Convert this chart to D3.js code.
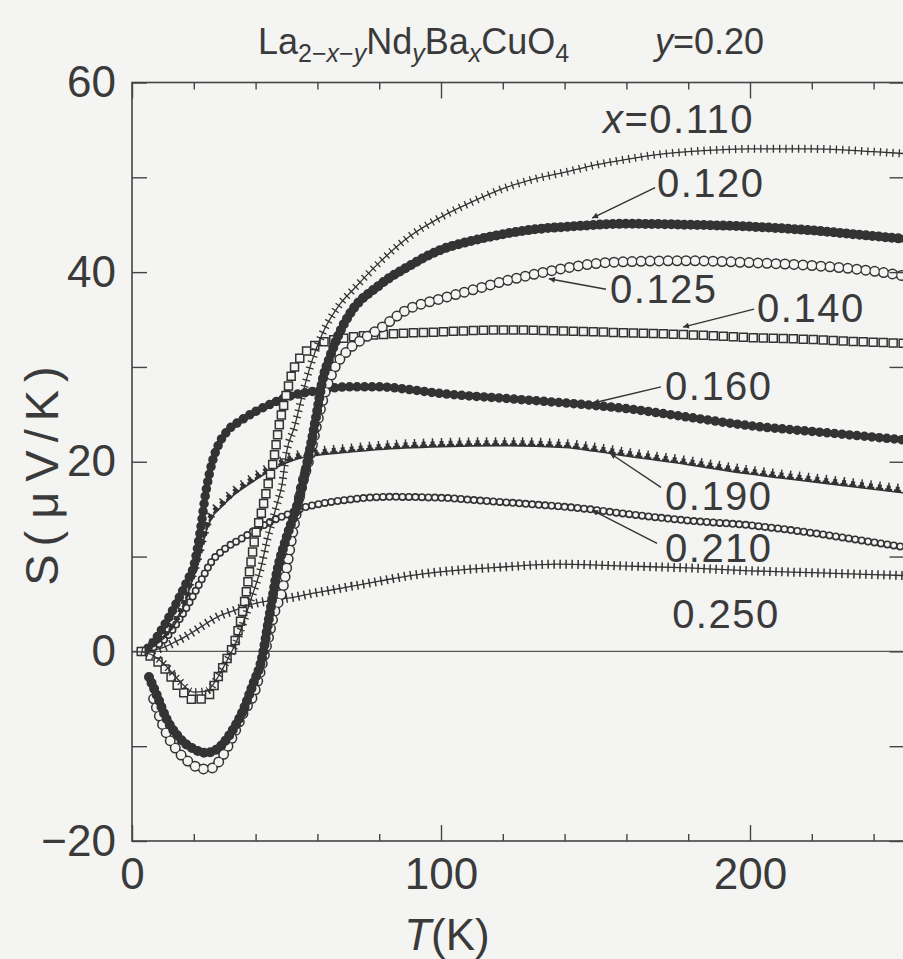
<!DOCTYPE html>
<html><head><meta charset="utf-8">
<script src="https://cdn.jsdelivr.net/npm/d3@7"></script>
<style>
html,body{margin:0;padding:0;background:#f4f4f2;}
svg{display:block;}
text{font-family:"Liberation Sans",Arial,Helvetica,sans-serif;fill:#3a3a3a;}
</style></head><body>
<svg id="chart" width="903" height="959"></svg>
<script>
// ---- data: [T (K), S (uV/K)] ----
const x110 = [[3,0],[6,-0.3],[10,-1.2],[15,-3.0],[20,-4.3],[24,-4.2],[28,-2.6],[31,-0.8],[33.5,0.8],[36,3],[38.5,5.5],[41.8,8.9],[43.7,11.7],[47,15.6],[48.5,17.5],[50,21],[52.5,23.6],[55.5,27.5],[58,30.4],[61.6,33.5],[67,36.5],[72,38.3],[80,41],[90,43.8],[100,45.8],[110,47.4],[120,48.8],[130,49.8],[141,50.6],[150,51.3],[160,51.9],[170,52.4],[180,52.7],[190,52.9],[200,53.0],[210,53.0],[220,53.0],[230,52.9],[240,52.7],[250,52.5]];
const x120 = [[5.5,-2.7],[8,-4.6],[11,-7],[15,-9],[20,-10.3],[24,-10.7],[28,-10.2],[32,-8.6],[36,-6.2],[39,-3.6],[42,-0.8],[44.4,3.6],[47,8.5],[50,12],[54,16],[57.4,21],[60,25.5],[61.6,28.5],[64,31],[67,33.5],[70.3,35.5],[80,38.6],[90,40.7],[99.5,42.3],[110,43.3],[120,44],[130,44.5],[141.6,44.8],[160,45.1],[180,45],[200,44.8],[220,44.4],[240,43.8],[250,43.5]];
const x125 = [[7,-5],[9.4,-7.3],[12,-9.2],[15,-10.6],[19,-11.8],[23,-12.4],[26,-12.3],[29,-11.2],[33,-8.7],[36,-6.5],[39.5,-4.4],[42,-1.5],[43.7,0.8],[46,4],[48.6,6.4],[52,12.5],[55,17.5],[57.5,20.5],[59.6,23.6],[62,26.8],[65,29.5],[70,31.8],[75,33],[80,34],[88.8,36],[100,37.2],[110,38.1],[120,39],[132,39.9],[141.6,40.5],[150,40.9],[160,41.1],[180,41.2],[200,41],[220,40.7],[240,40.1],[250,39.6]];
const x140 = [[3,0],[6,-0.5],[10,-1.6],[15,-3.7],[20,-5.1],[24,-4.9],[28,-2.6],[31,-0.6],[33,0.8],[36.3,5],[38.6,9.6],[39.8,12],[41.8,14.5],[43.8,17.3],[46,20.5],[47.5,23.6],[49.5,26.5],[52,29.5],[56,31.5],[60,32.4],[70,33.1],[80,33.4],[100,33.7],[120,33.9],[140,33.8],[160,33.6],[180,33.4],[200,33.1],[220,32.9],[240,32.6],[250,32.5]];
const x160 = [[3,0],[5,0.3],[10,2.5],[15,5.5],[18,7.5],[20,9],[22,12.5],[24,17],[26,20],[28,21.8],[31,23.3],[35,24.3],[40,25.3],[45,26.1],[50,26.8],[60,27.5],[70,27.9],[80,27.9],[90,27.6],[100,27.2],[120,26.7],[140,26.2],[160,25.6],[180,24.7],[200,23.8],[220,23.2],[240,22.6],[250,22.3]];
const x190 = [[5,0.3],[8,0.8],[12,2],[15,3.5],[17,5],[19,7],[21,9],[23,11.5],[24.3,13],[26,14.2],[28.8,15.2],[33,16.5],[38.6,17.8],[45,19.1],[50,19.9],[56,20.5],[60,20.7],[70,21],[80,21.3],[100,21.6],[120,21.7],[140,21.5],[150,21.1],[160,20.6],[180,19.7],[200,18.7],[220,17.9],[240,17.1],[250,16.7]];
const x210 = [[5,0.2],[8,0.6],[12,1.8],[15,3.2],[18,4.8],[20,6],[22.4,7.5],[25.6,9.4],[30,10.8],[36,12],[42,13.2],[47,14],[51.5,14.6],[55,15.1],[60,15.5],[70,16],[83,16.3],[100,16.2],[113,15.9],[130,15.5],[145,15.1],[160,14.5],[180,13.8],[200,13.3],[220,12.5],[240,11.5],[250,11]];
const x250 = [[3,0],[6,0.1],[10,0.4],[14,1],[17,1.5],[20,2.1],[24.3,3],[28,3.7],[33,4.3],[38,4.9],[43.8,5.3],[52,5.7],[58,6.1],[65,6.5],[70,6.8],[80,7.4],[90,8],[103,8.5],[120,8.9],[138,9.2],[160,9],[180,8.8],[200,8.5],[220,8.3],[240,8.1],[250,8]];

const seriesNames = ["0.250","0.210","0.190","0.160","0.140","0.125","0.120","0.110"];
const seriesData  = [x250, x210, x190, x160, x140, x125, x120, x110];

const yTickValues = [-20,-10,0,10,20,30,40,50,60];
const yTickLabels = [-20,0,20,40,60];
const xTickValues = [0,20,40,60,80,100,120,140,160,180,200,220,240];
const xTickLabels = [0,100,200];

// annotations (text anchor and arrow ends in data units)
const annText  = ["x=0.110","0.120","0.125","0.140","0.160","0.190","0.210","0.250"];
const annAt    = [[152.4,54.7],[169.9,47.9],[154.7,36.7],[202.3,34.7],[172.5,26.5],[172.5,14.9],[172.5,9.4],[174.8,2.5]];
const annFrom  = [null,[169.3,48.9],[153.4,38.2],[201.3,36.1],[171.2,27.9],[171.2,17.3],[169.9,11.4],null];
const annTo    = [null,[148.9,45.7],[134.9,39.3],[178.3,34.2],[149.2,26.2],[154.7,20.9],[148.9,14.9],null];

// ---- drawing ----
const INK = "#333333", BG = "#f4f4f2";
const svg = d3.select("#chart");
const X = d3.scaleLinear().domain([0,250]).range([132,904.5]);
const Y = d3.scaleLinear().domain([-20,60]).range([841,82.5]);

svg.append("rect").attr("width",903).attr("height",959).attr("fill",BG);

const defs = svg.append("defs");
defs.append("clipPath").attr("id","plotclip").append("rect")
  .attr("x",X(0)).attr("y",Y(60)).attr("width",X(250)-X(0)).attr("height",Y(-20)-Y(60));
defs.append("marker").attr("id","ah").attr("viewBox","0 0 10 10")
  .attr("refX",10).attr("refY",5).attr("markerWidth",13).attr("markerHeight",6)
  .attr("markerUnits","userSpaceOnUse").attr("orient","auto")
  .append("path").attr("d","M0,0L10,5L0,10Z").attr("fill",INK);

// zero line
svg.append("line").attr("x1",X(0)).attr("x2",X(250)).attr("y1",Y(0)).attr("y2",Y(0))
  .attr("stroke","#555").attr("stroke-width",1.1);

const line = d3.line().x(d=>X(d[0])).y(d=>Y(d[1])).curve(d3.curveMonotoneX);

// stroke layers imitating the dense marker chains
const styles = {
  "0.250":[{w:1.3,c:INK},{w:9,dash:"1.5 4.5",c:INK}],
  "0.210":[{w:1.3,c:INK},{w:8,dash:"0 6.5",cap:"round",c:INK},{w:4.8,dash:"0 6.5",cap:"round",c:BG}],
  "0.190":[{w:1.6,c:INK},
           {w:2.5,dash:"7 2",off:-1,c:INK,dy:-1.25},
           {w:5.5,dash:"4 5",off:-2.5,c:INK,dy:-2.75},
           {w:8.5,dash:"1.5 7.5",off:-3.75,c:INK,dy:-4.25}],
  "0.160":[{w:5.5,c:INK},{w:9.5,dash:"0 7.5",cap:"round",c:INK}],
  "0.140":[{w:9.5,dash:"0 10",cap:"square",c:INK},{w:6.5,dash:"0 10",cap:"square",c:BG}],
  "0.125":[{w:11,dash:"0 9",cap:"round",c:INK},{w:8,dash:"0 9",cap:"round",c:BG}],
  "0.120":[{w:7.5,c:INK},{w:10,dash:"0 6.5",cap:"round",c:INK}],
  "0.110":[{w:1.3,c:INK},{w:8,dash:"1.3 5",c:INK}]
};

const plot = svg.append("g").attr("clip-path","url(#plotclip)");
seriesNames.forEach((name,i)=>{
  const g = plot.append("g").attr("class","series s"+name.replace(".",""));
  styles[name].forEach(st=>{
    g.append("path").datum(seriesData[i]).attr("d",line)
      .attr("fill","none").attr("stroke",st.c).attr("stroke-width",st.w)
      .attr("stroke-dasharray",st.dash||null)
      .attr("stroke-dashoffset",st.off||null)
      .attr("stroke-linecap",st.cap||"butt").attr("stroke-linejoin","round")
      .attr("transform",st.dy?`translate(0,${st.dy})`:null);
  });
});

// frame
svg.append("rect").attr("x",X(0)).attr("y",Y(60)).attr("width",X(250)-X(0)).attr("height",Y(-20)-Y(60))
  .attr("fill","none").attr("stroke","#444").attr("stroke-width",1.6);

const fmtY = d=> yTickLabels.includes(d) ? (d<0?"\u2212"+Math.abs(d):String(d)) : "";
const fmtX = d=> xTickLabels.includes(d) ? String(d) : "";
function styleAxis(g){
  g.select(".domain").remove();
  g.selectAll(".tick line").attr("stroke","#444").attr("stroke-width",1.4);
  g.selectAll(".tick text").style("font-size","44px").attr("fill","#3a3a3a");
}
// left
svg.append("g").attr("transform",`translate(${X(0)},0)`)
  .call(d3.axisLeft(Y).tickValues(yTickValues).tickSizeInner(-15).tickSizeOuter(0).tickPadding(16).tickFormat(fmtY))
  .call(styleAxis);
// right
svg.append("g").attr("transform",`translate(${X(250)},0)`)
  .call(d3.axisRight(Y).tickValues(yTickValues).tickSizeInner(-15).tickSizeOuter(0).tickFormat(""))
  .call(styleAxis);
// bottom minor + major
svg.append("g").attr("transform",`translate(0,${Y(-20)})`)
  .call(d3.axisBottom(X).tickValues(xTickValues).tickSizeInner(-7).tickSizeOuter(0).tickPadding(17).tickFormat(fmtX))
  .call(styleAxis)
  .call(g=>g.selectAll(".tick line").filter(d=>xTickLabels.includes(d)).attr("y2",-16));
// top
svg.append("g").attr("transform",`translate(0,${Y(60)})`)
  .call(d3.axisTop(X).tickValues(xTickValues).tickSizeInner(-7).tickSizeOuter(0).tickFormat(""))
  .call(styleAxis)
  .call(g=>g.selectAll(".tick line").filter(d=>xTickLabels.includes(d)).attr("y2",16));

// axis titles
const yt = svg.append("text").attr("transform","translate(58,472) rotate(-90)")
  .attr("text-anchor","middle").style("font-size","47px").style("letter-spacing","8px");
yt.append("tspan").text("S(");
yt.append("tspan").attr("dx",4).text("\u03bc");
yt.append("tspan").attr("dx",2).text("V/K)");

const xt = svg.append("text").attr("x",X(100)+6).attr("y",950)
  .attr("text-anchor","middle").style("font-size","44px");
xt.append("tspan").style("font-style","italic").text("T");
xt.append("tspan").text("(K)");

// title
const title = svg.append("text").attr("x",258).attr("y",54).style("font-size","36px");
const SUB = "25px", SH = 8;
title.append("tspan").text("La");
title.append("tspan").attr("dy",SH).style("font-size",SUB).text("2\u2212");
title.append("tspan").style("font-size",SUB).style("font-style","italic").text("x");
title.append("tspan").style("font-size",SUB).text("\u2212");
title.append("tspan").style("font-size",SUB).style("font-style","italic").text("y");
title.append("tspan").attr("dy",-SH).text("Nd");
title.append("tspan").attr("dy",SH).style("font-size",SUB).style("font-style","italic").text("y");
title.append("tspan").attr("dy",-SH).text("Ba");
title.append("tspan").attr("dy",SH).style("font-size",SUB).style("font-style","italic").text("x");
title.append("tspan").attr("dy",-SH).text("CuO");
title.append("tspan").attr("dy",SH).style("font-size",SUB).text("4");
title.append("tspan").attr("dy",-SH).attr("x",655).style("font-style","italic").text("y");
title.append("tspan").text("=0.20");

// annotations
annText.forEach((t,i)=>{
  const tx = svg.append("text").attr("x",X(annAt[i][0])).attr("y",Y(annAt[i][1]))
    .style("font-size","40px").style("letter-spacing","1.5px");
  if (t.startsWith("x=")) {
    tx.append("tspan").style("font-style","italic").text("x");
    tx.append("tspan").text(t.slice(1));
  } else tx.text(t);
  if (annFrom[i]) {
    svg.append("line").attr("x1",X(annFrom[i][0])).attr("y1",Y(annFrom[i][1]))
      .attr("x2",X(annTo[i][0])).attr("y2",Y(annTo[i][1]))
      .attr("stroke",INK).attr("stroke-width",1.4).attr("marker-end","url(#ah)");
  }
});
</script>
</body></html>
